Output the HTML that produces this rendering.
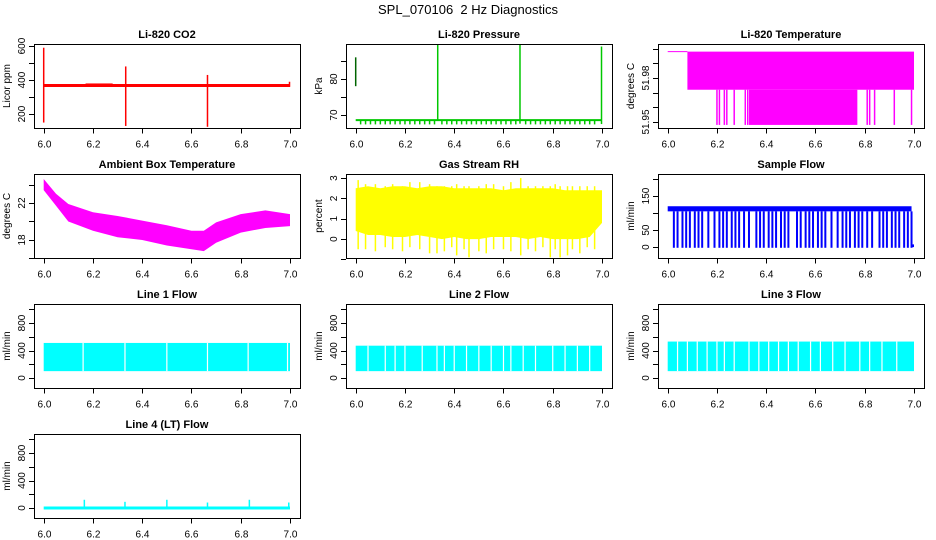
<!DOCTYPE html>
<html><head><meta charset="utf-8"><style>
html,body{margin:0;padding:0;background:#fff;}
svg{display:block;font-family:"Liberation Sans",sans-serif;}
</style></head><body>
<svg id="c" width="936" height="540" viewBox="0 0 936 540">
<text x="468" y="14" text-anchor="middle" font-size="13" style="white-space:pre">SPL_070106  2 Hz Diagnostics</text>
</svg>
<script>
// ---- data ----
const xTicks=[6.0,6.2,6.4,6.6,6.8,7.0];
const xTickLabels=["6.0","6.2","6.4","6.6","6.8","7.0"];
const co2Base=368;
const co2SpikeT=[6.0,6.333,6.665,6.998];
const co2SpikeLo=[150,130,125,360];
const co2SpikeHi=[590,480,430,390];
const presBase=68.6;
const presDipT=[6.02,6.04,6.06,6.08,6.10,6.12,6.14,6.16,6.18,6.20,6.22,6.24,6.26,6.28,6.30,6.32,6.35,6.37,6.39,6.41,6.43,6.45,6.47,6.49,6.51,6.53,6.55,6.57,6.59,6.61,6.63,6.65,6.69,6.71,6.73,6.75,6.77,6.79,6.81,6.83,6.85,6.87,6.89,6.91,6.93,6.95,6.97];
const presDipV=67.4;
const presSpikeT=[6.0,6.333,6.667,6.998];
const presSpikeLo=[78,68.6,67.6,67.5];
const presSpikeHi=[86,90,90,89];
const tempBandStart=6.08;
const tempHi=51.998, tempMid=51.972, tempLo=51.948;
const tempDenseLow=[6.33,6.77];
const tempSpikeT=[6.2,6.21,6.23,6.24,6.27,6.315,6.325,6.81,6.82,6.84,6.92,6.99];
const ambT=[6.0,6.05,6.1,6.2,6.3,6.4,6.5,6.6,6.65,6.7,6.8,6.9,7.0];
const ambHi=[24.6,23.0,21.9,21.0,20.6,20.1,19.6,19.0,19.0,19.9,20.8,21.2,20.8];
const ambLo=[23.4,21.7,20.0,19.0,18.3,18.0,17.4,17.0,16.8,17.7,18.8,19.3,19.5];
const rhT=[6.0,6.05,6.1,6.15,6.2,6.25,6.3,6.35,6.4,6.45,6.5,6.55,6.6,6.65,6.7,6.75,6.8,6.85,6.9,6.95,7.0];
const rhHi=[2.5,2.6,2.5,2.6,2.6,2.5,2.6,2.6,2.5,2.5,2.5,2.5,2.4,2.5,2.5,2.5,2.5,2.4,2.4,2.4,2.4];
const rhLo=[0.4,0.2,0.2,0.1,0.1,0.2,0.1,0.0,0.1,0.0,0.0,0.1,0.1,0.1,0.0,0.1,0.0,0.0,0.0,0.1,0.8];
const rhSpikeT=[6.01,6.04,6.08,6.12,6.15,6.19,6.22,6.26,6.3,6.33,6.36,6.39,6.41,6.44,6.46,6.5,6.53,6.56,6.6,6.63,6.67,6.7,6.73,6.76,6.79,6.81,6.83,6.86,6.88,6.91,6.94,6.97];
const rhSpikeLo=[-0.5,-0.5,-0.6,-0.4,-0.5,-0.6,-0.4,-0.5,-0.7,-0.7,-0.6,-0.4,-0.8,-0.5,-0.9,-0.6,-0.7,-0.5,-0.5,-0.6,-0.8,-0.5,-0.6,-0.4,-0.9,-0.5,-0.9,-0.8,-0.5,-0.7,-0.4,-0.5];
const rhSpikeHi=[2.9,2.7,2.7,2.6,2.7,2.6,2.8,2.8,2.7,2.6,2.6,2.6,2.7,2.6,2.6,2.6,2.7,2.7,2.6,2.8,3.0,2.6,2.6,2.6,2.6,2.7,2.6,2.6,2.6,2.6,2.6,2.6];
const sfBandLo=105, sfBandHi=120;
const sfDropT=[6.025,6.04,6.06,6.075,6.09,6.11,6.125,6.14,6.165,6.19,6.21,6.225,6.24,6.26,6.275,6.29,6.31,6.33,6.36,6.375,6.39,6.41,6.425,6.44,6.46,6.475,6.49,6.525,6.54,6.56,6.575,6.59,6.61,6.625,6.64,6.665,6.69,6.71,6.725,6.74,6.76,6.775,6.79,6.81,6.83,6.86,6.875,6.89,6.91,6.925,6.94,6.96,6.975,6.99];
const l1Lo=100, l1Hi=510;
const l1Gaps=[6.16,6.33,6.5,6.665,6.83,6.99];
const l2Lo=100, l2Hi=470;
const l2Gaps=[6.05,6.12,6.16,6.2,6.27,6.33,6.36,6.4,6.45,6.5,6.55,6.6,6.63,6.68,6.73,6.8,6.85,6.9,6.95];
const l3Lo=100, l3Hi=530;
const l3Gaps=[6.04,6.08,6.12,6.16,6.2,6.23,6.27,6.33,6.37,6.41,6.45,6.49,6.53,6.58,6.62,6.67,6.72,6.78,6.82,6.87,6.93];
const l4Base=0;
const l4SpikeT=[6.165,6.33,6.5,6.665,6.835,6.995];
const l4SpikeV=[120,90,120,80,120,80];

// ---- drawing ----
const svg=document.getElementById('c');
const NS='http://www.w3.org/2000/svg';
function mk(tag,attrs,parent){const e=document.createElementNS(NS,tag);for(const k in attrs)e.setAttribute(k,attrs[k]);(parent||svg).appendChild(e);return e;}
let clipN=0;
function panel(col,row,title,ylab,vmin,vmax,ticks,labels,name){
  const bx=34+312*col, by=44+130*row, bw=266, bh=84;
  const g=mk('g',{});
  
  
  const sx=t=>bx+9.7+(t-6)*246.3;
  const sy=v=>by+bh-(v-vmin)/(vmax-vmin)*bh;
  const t=mk('text',{x:bx+bw/2,y:by-6,'text-anchor':'middle','font-size':'11','font-weight':'bold'},g);
  t.textContent=title;
  
  
  const id='cp'+(clipN++);
  const cp=mk('clipPath',{id:id},g);mk('rect',{x:bx,y:by,width:bw,height:bh},cp);
  const dg=mk('g',{'clip-path':'url(#'+id+')'},g);
  
  
  const box=mk('rect',{x:bx+0.5,y:by+0.5,width:bw,height:bh,fill:'none',stroke:'#000','stroke-width':1},g);
  
  
  const ya=mk('g',{},g);
  
  
  ticks.forEach(v=>{const y=Math.round(sy(v))+0.5;mk('line',{x1:bx-5,x2:bx,y1:y,y2:y,stroke:'#000'},ya);});
  labels.forEach(v=>{const y=sy(v);const tx=mk('text',{x:bx-9,y:y,'text-anchor':'middle','font-size':'10',transform:'rotate(-90 '+(bx-9)+' '+y+')'},ya);tx.textContent=String(v);});
  const yl=mk('text',{x:bx-24,y:by+bh/2,'text-anchor':'middle','font-size':'10',transform:'rotate(-90 '+(bx-24)+' '+(by+bh/2)+')'},g);
  yl.textContent=ylab;
  
  
  const xa=mk('g',{},g);
  
  
  const yb=by+bh+0.5;
  xTicks.forEach((v,i)=>{const x=Math.round(sx(v))+0.5;mk('line',{x1:x,x2:x,y1:yb,y2:yb+5,stroke:'#000'},xa);
    const tx=mk('text',{x:x,y:yb+19,'text-anchor':'middle','font-size':'10'},xa);tx.textContent=xTickLabels[i];});
  return {sx,sy,g:dg};
}
function vline(p,t,v1,v2,col,w){return mk('line',{x1:p.sx(t),x2:p.sx(t),y1:p.sy(v1),y2:p.sy(v2),stroke:col,'stroke-width':w||1},p.g);}
function hline(p,t1,t2,v,col,w){return mk('line',{x1:p.sx(t1),x2:p.sx(t2),y1:p.sy(v),y2:p.sy(v),stroke:col,'stroke-width':w||1},p.g);}
function band(p,t1,t2,lo,hi,col){return mk('rect',{x:p.sx(t1),y:p.sy(hi),width:p.sx(t2)-p.sx(t1),height:p.sy(lo)-p.sy(hi),fill:col},p.g);}
function env(p,ts,hi,lo,col){let d='M';ts.forEach((t,i)=>d+=p.sx(t)+','+p.sy(hi[i])+' L');for(let i=ts.length-1;i>=0;i--)d+=p.sx(ts[i])+','+p.sy(lo[i])+(i?' L':' Z');return mk('path',{d:d,fill:col},p.g);}

// CO2
let p=panel(0,0,'Li-820 CO2','Licor ppm',118,612,[200,300,400,500,600],[200,400,600],'co2');
hline(p,6.0,7.0,co2Base,'#f00',3);
band(p,6.17,6.28,co2Base,co2Base+12,'#f00');
co2SpikeT.forEach((t,i)=>vline(p,t,co2SpikeLo[i],co2SpikeHi[i],'#f00',1.5));
// Pressure
p=panel(1,0,'Li-820 Pressure','kPa',66.4,89.7,[70,75,80,85],[70,80],'pressure');
hline(p,6.0,7.0,presBase,'#00c800',2);
presDipT.forEach(t=>vline(p,t,presDipV,presBase,'#00c800',1.5));
presSpikeT.forEach((t,i)=>vline(p,t,presSpikeLo[i],presSpikeHi[i],i==0?'#006400':'#00c800',1.5));
// Temperature
p=panel(2,0,'Li-820 Temperature','degrees C',51.9459,52.0032,[51.95,51.96,51.97,51.98,51.99,52.0],[51.95,51.98],'li820-temp');
hline(p,6.0,tempBandStart,tempHi,'#f0f',1);
band(p,tempBandStart,7.0,tempMid,tempHi,'#f0f');
band(p,tempDenseLow[0],tempDenseLow[1],tempLo,tempMid,'#f0f');
tempSpikeT.forEach(t=>vline(p,t,tempLo,tempMid,'#f0f',1.5));
// Ambient
p=panel(0,1,'Ambient Box Temperature','degrees C',16.05,25.14,[16,18,20,22,24],[18,22],'ambient-temp');
env(p,ambT,ambHi,ambLo,'#f0f');
// RH
p=panel(1,1,'Gas Stream RH','percent',-0.93,3.2,[-1,0,1,2,3],[0,1,2,3],'rh');
env(p,rhT,rhHi,rhLo,'#ff0');
rhSpikeT.forEach((t,i)=>vline(p,t,rhSpikeLo[i],rhSpikeHi[i],'#ff0',1.5));
// Sample flow
p=panel(2,1,'Sample Flow','ml/min',-32,214.7,[0,50,100,150,200],[0,50,150],'sample-flow');
band(p,6.0,6.99,sfBandLo,sfBandHi,'#00f');
sfDropT.forEach(t=>vline(p,t,-2,sfBandLo,'#00f',2));
band(p,6.99,7.0,0,8,'#00f');
// Line flows
function lineFlow(col,row,title,name,lo,hi,gaps){
  const q=panel(col,row,title,'ml/min',-145,1076,[0,200,400,600,800,1000],[0,400,800],name);
  band(q,6.0,7.0,lo,hi,'#0ff');
  gaps.forEach(t=>vline(q,t,lo,hi,'#fff',1.2));
  return q;
}
lineFlow(0,2,'Line 1 Flow','line1-flow',l1Lo,l1Hi,l1Gaps);
lineFlow(1,2,'Line 2 Flow','line2-flow',l2Lo,l2Hi,l2Gaps);
lineFlow(2,2,'Line 3 Flow','line3-flow',l3Lo,l3Hi,l3Gaps);
p=panel(0,3,'Line 4 (LT) Flow','ml/min',-145,1076,[0,200,400,600,800,1000],[0,400,800],'line4-flow');
hline(p,6.0,7.0,l4Base,'#0ff',3);
l4SpikeT.forEach((t,i)=>vline(p,t,l4Base,l4SpikeV[i],'#0ff',1.5));
</script>
</body></html>
